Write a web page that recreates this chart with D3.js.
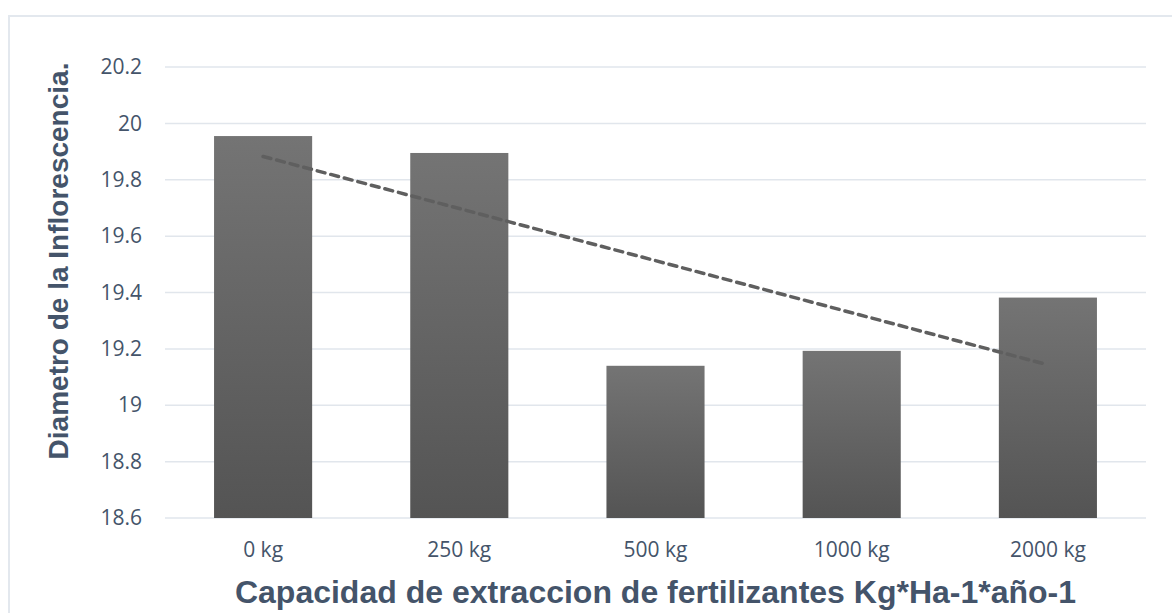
<!DOCTYPE html>
<meta charset="utf-8">
<style>
  body { margin: 0; background: #fff; }
</style>
<svg width="1172" height="613"></svg>

<script src="https://d3js.org/d3.v7.min.js"></script>
<script>

// values
var categories = ["0 kg", "250 kg", "500 kg", "1000 kg", "2000 kg"]
var diametro = [19.955, 19.895, 19.140, 19.193, 19.382]
var yTicks = [18.6, 18.8, 19, 19.2, 19.4, 19.6, 19.8, 20, 20.2]

var xTitle = "Capacidad de extraccion de fertilizantes Kg*Ha-1*año-1"
var yTitle = "Diametro de la Inflorescencia."

var textColor = "#44546a"
var gridColor = "#e1e6ec"

var svg = d3.select("svg")

// chart frame (only top and left edges visible in the picture)
svg.append("rect")
    .attr("x", 9)
    .attr("y", 16)
    .attr("width", 1200)
    .attr("height", 700)
    .attr("fill", "none")
    .attr("stroke", "#e3e8ee")
    .attr("stroke-width", 2)

var plot = { left: 165, right: 1146, top: 67, bottom: 518 }

var x = d3.scaleBand()
    .domain(categories)
    .range([plot.left, plot.right])
    .paddingInner(0.5)
    .paddingOuter(0.25)

var y = d3.scaleLinear()
    .domain([18.6, 20.2])
    .range([plot.bottom, plot.top])

// gradient for the bars
var grad = svg.append("defs").append("linearGradient")
    .attr("id", "barGrad")
    .attr("x1", 0).attr("y1", 0)
    .attr("x2", 0).attr("y2", 1)
grad.append("stop").attr("offset", "0%").attr("stop-color", "#747474")
grad.append("stop").attr("offset", "100%").attr("stop-color", "#545454")

// gridlines
svg.append("g")
  .selectAll("line")
  .data(yTicks)
  .enter().append("line")
    .attr("x1", plot.left)
    .attr("x2", plot.right)
    .attr("y1", function (d) { return y(d) })
    .attr("y2", function (d) { return y(d) })
    .attr("stroke", gridColor)
    .attr("stroke-width", 1.5)

// y axis labels
var yAxis = d3.axisLeft(y)
    .tickValues(yTicks)
    .tickSize(0)
    .tickPadding(23)
    .tickFormat(function (d) { return String(+d.toFixed(1)) })

svg.append("g")
    .attr("transform", "translate(" + plot.left + ",0)")
    .call(yAxis)
    .call(function (g) { g.select(".domain").remove() })
    .selectAll("text")
      .attr("fill", textColor)
      .style("font-family", "'Open Sans', sans-serif")
      .style("font-size", "21px")

// bars
svg.append("g")
  .selectAll("rect")
  .data(diametro)
  .enter().append("rect")
    .attr("x", function (d, i) { return x(categories[i]) })
    .attr("width", x.bandwidth())
    .attr("y", function (d) { return y(d) })
    .attr("height", function (d) { return plot.bottom - y(d) })
    .attr("fill", "url(#barGrad)")

// x axis labels
var xAxis = d3.axisBottom(x)
    .tickSize(0)
    .tickPadding(24)

svg.append("g")
    .attr("transform", "translate(0," + plot.bottom + ")")
    .call(xAxis)
    .call(function (g) { g.select(".domain").remove() })
    .selectAll("text")
      .attr("fill", textColor)
      .style("font-family", "'Open Sans', sans-serif")
      .style("font-size", "21px")

// linear trendline (least squares over category index)
var n = diametro.length
var meanX = (n - 1) / 2
var meanY = d3.mean(diametro)
var sxy = 0, sxx = 0
diametro.forEach(function (v, i) {
  sxy += (i - meanX) * (v - meanY)
  sxx += (i - meanX) * (i - meanX)
})
var slope = sxy / sxx
var intercept = meanY - slope * meanX

var trend = [0, n - 1].map(function (i) {
  return { x: x(categories[i]) + x.bandwidth() / 2, y: y(intercept + slope * i) }
})

svg.append("path")
    .datum(trend)
    .attr("d", d3.line().x(function (d) { return d.x }).y(function (d) { return d.y }))
    .attr("fill", "none")
    .attr("stroke", "#5f5f5f")
    .attr("stroke-width", 3.5)
    .attr("stroke-dasharray", "8,6")
    .attr("stroke-linecap", "round")

// axis titles
svg.append("text")
    .attr("x", (plot.left + plot.right) / 2)
    .attr("y", 603)
    .attr("text-anchor", "middle")
    .attr("fill", textColor)
    .style("font-family", "'Liberation Sans', Arial, sans-serif")
    .style("font-weight", "bold")
    .style("font-size", "32px")
    .text(xTitle)

svg.append("text")
    .attr("transform", "translate(68,261) rotate(-90)")
    .attr("text-anchor", "middle")
    .attr("fill", textColor)
    .style("font-family", "'Liberation Sans', Arial, sans-serif")
    .style("font-weight", "bold")
    .style("font-size", "28px")
    .text(yTitle)

</script>
